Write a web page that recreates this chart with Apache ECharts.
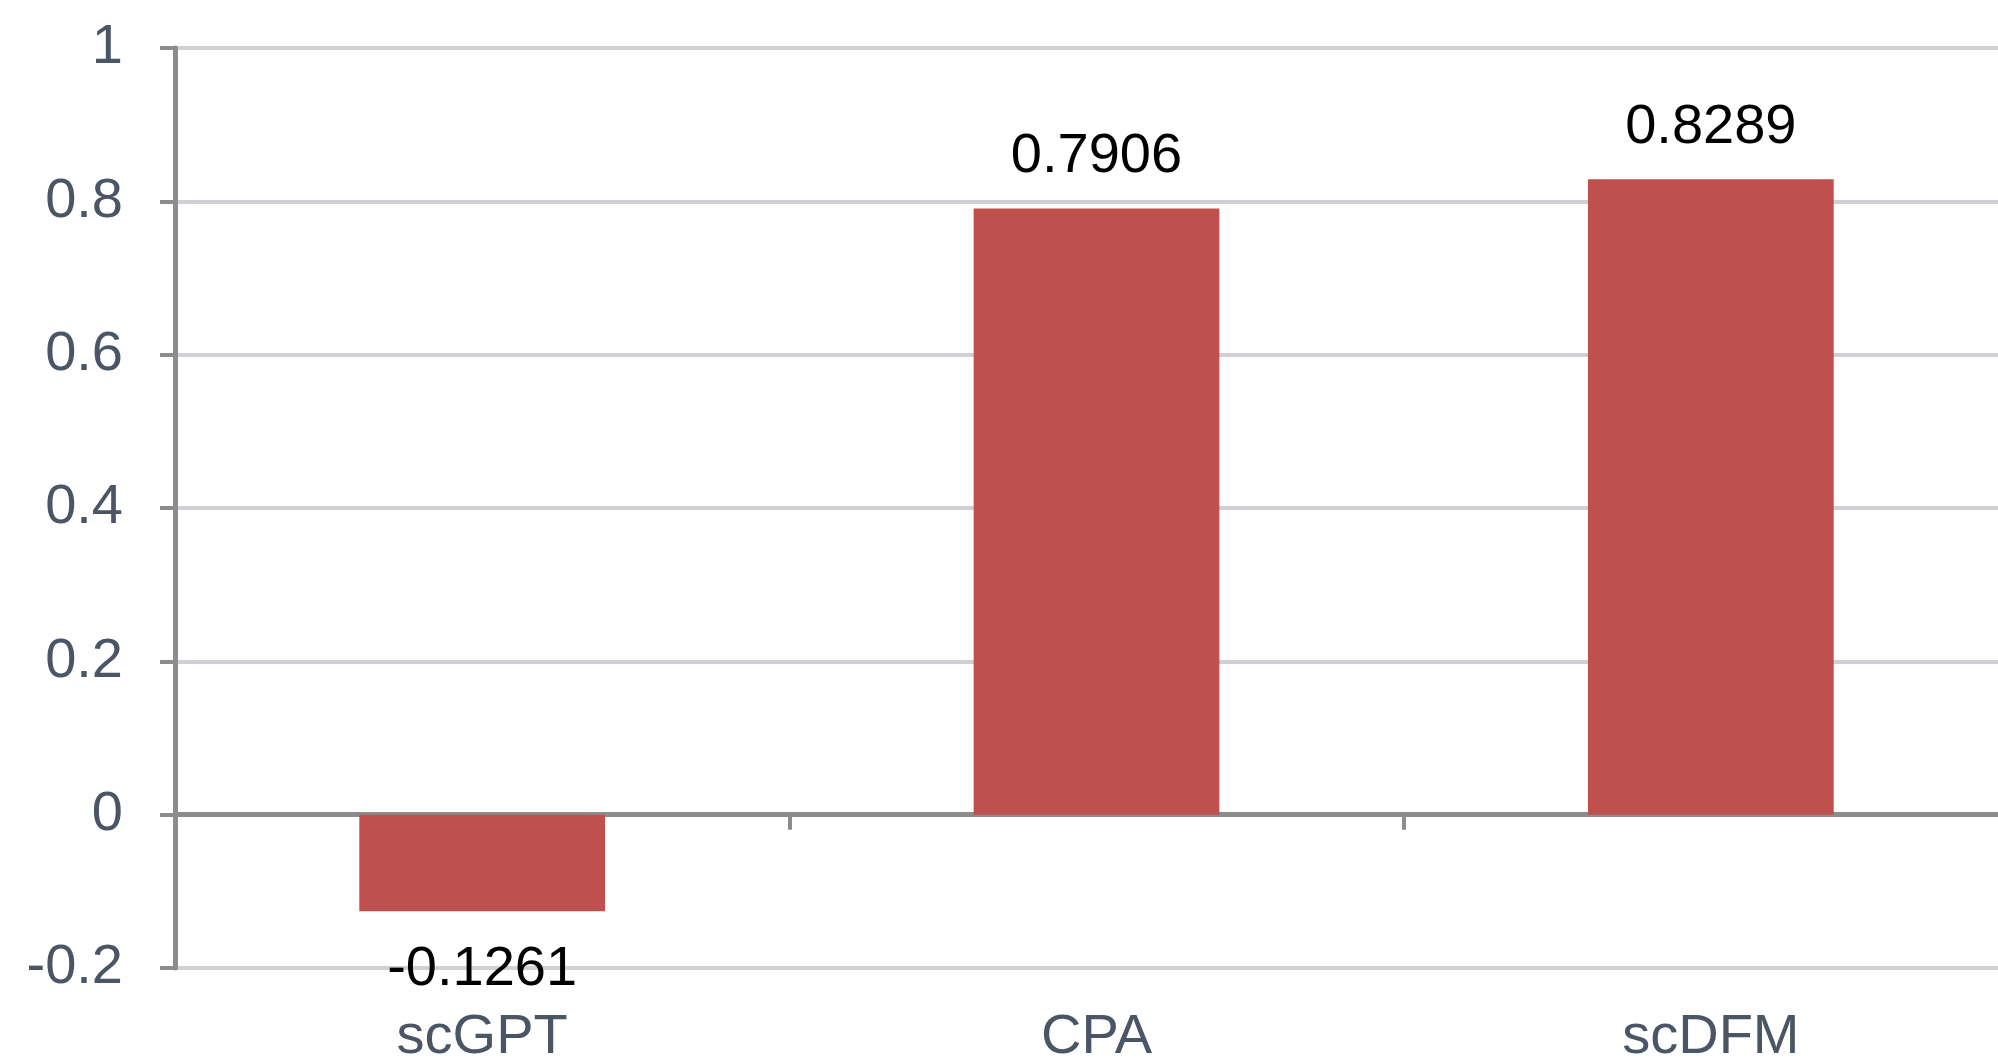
<!DOCTYPE html>
<html>
<head>
<meta charset="utf-8">
<script src="https://cdn.jsdelivr.net/npm/echarts@6/dist/echarts.min.js"></script>
<style>
html,body{margin:0;padding:0;background:#fff;}
#chart{width:1998px;height:1059px;}
</style>
</head>
<body>
<div id="chart"></div>
<script>
const categories = ['scGPT', 'CPA', 'scDFM'];
const values = [-0.1261, 0.7906, 0.8289];
const yMin = -0.2, yMax = 1, yStep = 0.2;

const FONT = 'Liberation Sans, Arial, Helvetica, sans-serif';
const AXIS_GRAY = '#8c8c8c';
const LABEL_COLOR = '#4a5566';

const chart = echarts.init(document.getElementById('chart'), null, {renderer: 'canvas'});
chart.setOption({
  animation: false,
  backgroundColor: '#ffffff',
  grid: {left: 175, right: -20, top: 48, bottom: 91, containLabel: false, outerBoundsMode: 'none'},
  xAxis: [
    {
      type: 'category', data: categories, position: 'bottom',
      axisLine: {show: false, onZero: false},
      axisTick: {show: false},
      axisLabel: {show: true, margin: 42, fontSize: 56, color: LABEL_COLOR, fontFamily: FONT},
      splitLine: {show: false}
    },
    {
      type: 'category', data: categories, position: 'bottom',
      axisLine: {show: true, onZero: true, lineStyle: {color: AXIS_GRAY, width: 5}},
      axisTick: {show: true, length: 15, lineStyle: {color: AXIS_GRAY, width: 4}},
      axisLabel: {show: false},
      splitLine: {show: false}
    }
  ],
  yAxis: {
    type: 'value', min: yMin, max: yMax, interval: yStep,
    axisLine: {show: true, lineStyle: {color: AXIS_GRAY, width: 5}},
    axisTick: {show: true, length: 15, lineStyle: {color: AXIS_GRAY, width: 4}},
    axisLabel: {
      margin: 52, fontSize: 56, color: LABEL_COLOR, fontFamily: FONT,
      formatter: v => String(parseFloat(v.toFixed(2)))
    },
    splitLine: {show: true, lineStyle: {color: '#cfcfd4', width: 4}}
  },
  series: [{
    type: 'bar',
    xAxisIndex: 0,
    barWidth: '40%',
    itemStyle: {color: '#c0504d'},
    label: {
      show: true, color: '#000000', fontSize: 56, fontFamily: FONT, distance: 24,
      formatter: p => p.value.toFixed(4)
    },
    data: values.map(v => ({value: v, label: {position: v < 0 ? 'bottom' : 'top', distance: v < 0 ? 30 : 24}}))
  }]
});
</script>
</body>
</html>
